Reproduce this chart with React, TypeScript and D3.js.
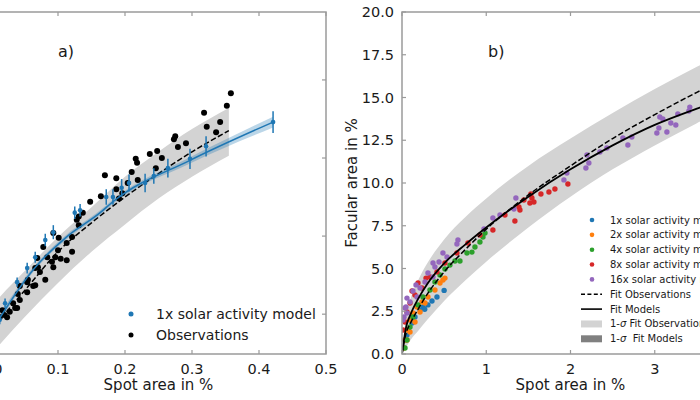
import React from 'react';
import * as d3 from 'd3';

const FONT = "'DejaVu Sans', sans-serif";

// ---------------- Panel a) ----------------
const xTicksA = [0, 0.1, 0.2, 0.3, 0.4, 0.5];
const yTicksA = [1, 2, 3, 4];

// Observations (spot area %, facular value)
const observationsA: [number, number][] = [
  [0.358, 3.83], [0.352, 3.67], [0.318, 3.58], [0.342, 3.46], [0.322, 3.40], [0.336, 3.33],
  [0.275, 3.28], [0.273, 3.24], [0.291, 3.19], [0.279, 3.14], [0.216, 2.99], [0.218, 2.94],
  [0.237, 3.05], [0.248, 3.09], [0.255, 3.00], [0.210, 2.82], [0.246, 2.87], [0.170, 2.78],
  [0.187, 2.74], [0.219, 2.72], [0.187, 2.60], [0.196, 2.55], [0.204, 2.68], [0.164, 2.51],
  [0.191, 2.48], [0.148, 2.44], [0.137, 2.30], [0.128, 2.21], [0.131, 2.25], [0.131, 2.14],
  [0.093, 2.04], [0.121, 1.99], [0.113, 1.91], [0.100, 1.82], [0.096, 1.73], [0.121, 1.80],
  [0.113, 1.69], [0.104, 1.71], [0.084, 1.73], [0.070, 1.60], [0.091, 1.67], [0.093, 1.60],
  [0.073, 1.54], [0.081, 1.44], [0.055, 1.44], [0.043, 1.36], [0.063, 1.36], [0.054, 1.28],
  [0.040, 1.26], [0.043, 1.18], [0.033, 1.14], [0.039, 1.08], [0.028, 1.03], [0.024, 0.96],
  [0.013, 0.96], [0.101, 1.98], [0.078, 1.86], [0.069, 1.72], [0.066, 1.59], [0.054, 1.41],
  [0.066, 1.37], [0.036, 1.08], [0.020, 0.99], [0.017, 1.05],
];

// 1x solar activity model (spot, value, error)
const modelPointsA: [number, number, number][] = [
  [0.421, 3.46, 0.14], [0.321, 3.15, 0.13], [0.297, 2.99, 0.13], [0.264, 2.87, 0.12],
  [0.243, 2.77, 0.10], [0.230, 2.68, 0.12], [0.206, 2.68, 0.11], [0.195, 2.62, 0.11],
  [0.182, 2.50, 0.10], [0.172, 2.50, 0.10], [0.133, 2.33, 0.08], [0.125, 2.30, 0.08],
  [0.093, 2.05, 0.09], [0.081, 1.95, 0.08], [0.066, 1.73, 0.07], [0.054, 1.59, 0.07],
  [0.039, 1.41, 0.06], [0.021, 1.14, 0.06], [0.013, 0.93, 0.06],
];

// Fit to observations with 1-sigma band
const fitSpotA = [0, 0.013, 0.05, 0.1, 0.15, 0.2, 0.25, 0.3, 0.355];
const fitObsA = [0.80, 0.93, 1.30, 1.80, 2.17, 2.50, 2.80, 3.08, 3.35];
const fitObsHiA = [1.09, 1.22, 1.55, 1.99, 2.37, 2.76, 3.08, 3.37, 3.64];
const fitObsLoA = [0.48, 0.61, 0.96, 1.40, 1.80, 2.15, 2.48, 2.76, 3.03];

// Fit to model with band
const modFitSpotA = [0, 0.013, 0.063, 0.113, 0.163, 0.182, 0.297, 0.421];
const modFitA = [0.77, 0.95, 1.57, 1.99, 2.30, 2.44, 2.97, 3.46];
const modFitHalfA = [0.06, 0.05, 0.03, 0.03, 0.03, 0.03, 0.04, 0.07];

const legendA = ['1x solar activity model', 'Observations'];

// ---------------- Panel b) ----------------
const xTicksB = [0, 1, 2, 3, 4];
const yTicksB = [0, 2.5, 5, 7.5, 10, 12.5, 15, 17.5, 20];

const fitSpotB = [0, 0.05, 0.1, 0.2, 0.3, 0.5, 0.75, 1.0, 1.5, 2.0, 2.5, 3.0, 3.5, 4.0];
const fitObsB = [0, 1.25, 1.8, 2.7, 3.5, 4.8, 6.1, 7.3, 9.3, 11.0, 12.6, 14.0, 15.3, 16.5];
const fitObsHiB = [0, 2.3, 3.2, 4.4, 5.3, 6.7, 8.0, 9.1, 11.0, 12.6, 14.1, 15.5, 16.8, 18.0];
const fitObsLoB = [0, 0.4, 0.8, 1.4, 2.0, 3.1, 4.3, 5.4, 7.4, 9.2, 10.8, 12.2, 13.5, 14.7];
const fitModB = [0, 1.6, 2.3, 3.3, 4.1, 5.3, 6.4, 7.4, 9.2, 10.8, 12.2, 13.4, 14.35, 15.2];

const act1x: [number, number][] = [
  [0.50, 3.72], [0.415, 3.33], [0.356, 3.10], [0.308, 2.87], [0.249, 2.75], [0.214, 2.57],
  [0.154, 2.16], [0.119, 1.81], [0.071, 1.40], [0.036, 0.82], [0.059, 1.11], [0.27, 2.62],
];
const act2x: [number, number][] = [
  [0.510, 4.44], [0.486, 4.33], [0.451, 4.15], [0.391, 3.74], [0.308, 3.33], [0.273, 2.98],
  [0.237, 3.04], [0.214, 2.46], [0.178, 2.75], [0.130, 2.40], [0.154, 1.87], [0.095, 1.99],
  [0.095, 1.29], [0.059, 1.40], [0.059, 0.82], [0.036, 0.82], [0.024, 0.35],
];
const act4x: [number, number][] = [
  [0.985, 7.08], [0.961, 6.84], [0.925, 6.55], [0.866, 6.26], [0.830, 5.96], [0.771, 5.91],
  [0.688, 5.44], [0.629, 5.44], [0.569, 5.20], [0.510, 4.97], [0.451, 4.62], [0.391, 4.21],
  [0.332, 3.74], [0.249, 3.33], [0.190, 2.87], [0.130, 2.16], [0.095, 1.58], [0.059, 0.82],
  [0.036, 0.35],
];
const act8x: [number, number][] = [
  [1.969, 9.94], [1.815, 9.65], [1.744, 9.47], [1.649, 9.36], [1.530, 9.36], [1.542, 9.12],
  [1.566, 8.89], [1.518, 8.83], [1.447, 9.01], [1.388, 8.60], [1.400, 8.42], [1.340, 7.78],
  [1.222, 8.13], [1.079, 7.25], [0.925, 6.96], [0.783, 6.49], [0.652, 5.91], [0.510, 5.32],
  [0.415, 4.80], [0.332, 4.50], [0.237, 3.86], [0.154, 3.45], [0.095, 2.98], [0.059, 2.46],
  [0.036, 1.87], [0.119, 3.68], [0.190, 4.15], [0.285, 4.44], [0.012, 1.40],
];
const act16x: [number, number][] = [
  [3.416, 14.44], [3.405, 14.21], [3.274, 14.04], [3.250, 13.39], [3.191, 13.51], [3.144, 12.98],
  [3.096, 13.74], [3.060, 13.86], [3.025, 12.92], [3.049, 13.22], [2.728, 12.69], [2.681, 12.22],
  [2.622, 12.63], [2.432, 12.05], [2.349, 11.81], [2.195, 11.64], [2.218, 11.17], [2.183, 10.88],
  [1.957, 10.58], [1.922, 10.18], [1.352, 9.12], [1.329, 8.48], [1.163, 8.13], [1.079, 7.95],
  [0.973, 7.31], [0.664, 6.67], [0.652, 6.43], [0.486, 5.91], [0.534, 5.67], [0.439, 5.38],
  [0.368, 5.32], [0.391, 5.09], [0.308, 4.74], [0.368, 4.50], [0.273, 4.21], [0.214, 3.86],
  [0.166, 4.04], [0.130, 3.68], [0.178, 3.33], [0.095, 3.04], [0.059, 3.27], [0.036, 2.69],
  [0.059, 2.40], [0.024, 2.16], [0.012, 1.99], [0.047, 2.75],
];

const seriesB = [
  { label: '1x solar activity model', color: '#1f77b4', pts: act1x },
  { label: '2x solar activity model', color: '#ff7f0e', pts: act2x },
  { label: '4x solar activity model', color: '#2ca02c', pts: act4x },
  { label: '8x solar activity model', color: '#d62728', pts: act8x },
  { label: '16x solar activity model', color: '#9467bd', pts: act16x },
];

const SPINE = '#9a9a9a';
const TXT = '#1a1a1a';

export default function App() {
  const xA = d3.scaleLinear().domain([0, 0.5]).range([-9, 326]);
  const yA = d3.scaleLinear().domain([0.49, 4.87]).range([354, 12]);
  const xB = d3.scaleLinear().domain([0, 4]).range([402, 739]);
  const yB = d3.scaleLinear().domain([0, 20]).range([354, 12]);

  const idx = (n: number) => d3.range(n);

  const bandA = d3.area<number>()
    .x(i => xA(fitSpotA[i])).y0(i => yA(fitObsLoA[i])).y1(i => yA(fitObsHiA[i]))
    .curve(d3.curveMonotoneX)(idx(fitSpotA.length)) || '';
  const fitLineA = d3.line<number>()
    .x(i => xA(fitSpotA[i])).y(i => yA(fitObsA[i]))
    .curve(d3.curveMonotoneX)(idx(fitSpotA.length)) || '';
  const modBandA = d3.area<number>()
    .x(i => xA(modFitSpotA[i])).y0(i => yA(modFitA[i] - modFitHalfA[i])).y1(i => yA(modFitA[i] + modFitHalfA[i]))
    .curve(d3.curveMonotoneX)(idx(modFitSpotA.length)) || '';
  const modLineA = d3.line<number>()
    .x(i => xA(modFitSpotA[i])).y(i => yA(modFitA[i]))
    .curve(d3.curveMonotoneX)(idx(modFitSpotA.length)) || '';

  const bandB = d3.area<number>()
    .x(i => xB(fitSpotB[i])).y0(i => yB(fitObsLoB[i])).y1(i => yB(fitObsHiB[i]))
    .curve(d3.curveMonotoneX)(idx(fitSpotB.length)) || '';
  const fitObsLineB = d3.line<number>()
    .x(i => xB(fitSpotB[i])).y(i => yB(fitObsB[i]))
    .curve(d3.curveMonotoneX)(idx(fitSpotB.length)) || '';
  const fitModLineB = d3.line<number>()
    .x(i => xB(fitSpotB[i])).y(i => yB(fitModB[i]))
    .curve(d3.curveMonotoneX)(idx(fitSpotB.length)) || '';

  const tickFont = 14.5;
  const labelFont = 15;

  const [ax0, ax1] = xA.range();
  const [ay0, ay1] = yA.range(); // 354, 12
  const [bx0, bx1] = xB.range();
  const [by0, by1] = yB.range();

  const legBY = d3.range(9).map(i => 220 + i * 14.85);

  return (
    <svg width={700} height={400} style={{ position: 'absolute', left: 0, top: 0, background: '#fff' }}
      fontFamily={FONT}>
      <defs>
        <clipPath id="clipA"><rect x={ax0} y={ay1} width={ax1 - ax0} height={ay0 - ay1} /></clipPath>
        <clipPath id="clipB"><rect x={bx0} y={by1} width={bx1 - bx0} height={by0 - by1} /></clipPath>
      </defs>

      {/* ---------------- Panel a ---------------- */}
      <g clipPath="url(#clipA)">
        <path d={bandA} fill="#d3d3d3" />
        <path d={fitLineA} fill="none" stroke="#000" strokeWidth={1.5} strokeDasharray="5.5,2.4" />
        <path d={modBandA} fill="#1f77b4" fillOpacity={0.3} />
        {observationsA.map((p, i) => (
          <circle key={'o' + i} cx={xA(p[0])} cy={yA(p[1])} r={3} fill="#000" />
        ))}
        {modelPointsA.map((p, i) => (
          <g key={'m' + i}>
            <line x1={xA(p[0])} x2={xA(p[0])} y1={yA(p[1] - p[2])} y2={yA(p[1] + p[2])}
              stroke="#1f77b4" strokeWidth={1.5} />
            <circle cx={xA(p[0])} cy={yA(p[1])} r={2.3} fill="#1f77b4" />
          </g>
        ))}
        <path d={modLineA} fill="none" stroke="#1f77b4" strokeWidth={1.5} />
      </g>
      {/* spines a */}
      <rect x={ax0} y={ay1} width={ax1 - ax0} height={ay0 - ay1} fill="none" stroke={SPINE} strokeWidth={1.5} />
      {xTicksA.map(t => (
        <g key={'xa' + t}>
          <line x1={xA(t)} x2={xA(t)} y1={ay0} y2={ay0 - 4} stroke={SPINE} strokeWidth={1.2} />
          <line x1={xA(t)} x2={xA(t)} y1={ay1} y2={ay1 + 4} stroke={SPINE} strokeWidth={1.2} />
          <text x={xA(t)} y={374} textAnchor="middle" fontSize={tickFont} fill={TXT}>{t.toFixed(1)}</text>
        </g>
      ))}
      {yTicksA.map(t => (
        <g key={'ya' + t}>
          <line x1={ax1} x2={ax1 - 4} y1={yA(t)} y2={yA(t)} stroke={SPINE} strokeWidth={1.2} />
          <line x1={ax0} x2={ax0 + 4} y1={yA(t)} y2={yA(t)} stroke={SPINE} strokeWidth={1.2} />
        </g>
      ))}
      <text x={(ax0 + ax1) / 2} y={390} textAnchor="middle" fontSize={labelFont} fill={TXT}>Spot area in %</text>
      <text x={58} y={57} fontSize={16} fill={TXT}>a)</text>
      {/* legend a */}
      <circle cx={131} cy={314} r={2.5} fill="#1f77b4" />
      <text x={156} y={319} fontSize={14} fill={TXT}>{legendA[0]}</text>
      <circle cx={131} cy={335} r={2.5} fill="#000" />
      <text x={156} y={340} fontSize={14} fill={TXT}>{legendA[1]}</text>

      {/* ---------------- Panel b ---------------- */}
      <g clipPath="url(#clipB)">
        <path d={bandB} fill="#d3d3d3" />
        {seriesB.map(s => s.pts.map((p, i) => (
          <circle key={s.label + i} cx={xB(p[0])} cy={yB(p[1])} r={2.7} fill={s.color} />
        )))}
        <path d={fitObsLineB} fill="none" stroke="#000" strokeWidth={1.5} strokeDasharray="5.5,2.4" />
        <path d={fitModLineB} fill="none" stroke="#000" strokeWidth={1.8} />
      </g>
      <rect x={bx0} y={by1} width={bx1 - bx0} height={by0 - by1} fill="none" stroke={SPINE} strokeWidth={1.5} />
      {xTicksB.map(t => (
        <g key={'xb' + t}>
          <line x1={xB(t)} x2={xB(t)} y1={by0} y2={by0 - 4} stroke={SPINE} strokeWidth={1.2} />
          <line x1={xB(t)} x2={xB(t)} y1={by1} y2={by1 + 4} stroke={SPINE} strokeWidth={1.2} />
          <text x={xB(t)} y={374} textAnchor="middle" fontSize={tickFont} fill={TXT}>{String(t)}</text>
        </g>
      ))}
      {yTicksB.map(t => (
        <g key={'yb' + t}>
          <line x1={bx0} x2={bx0 + 4} y1={yB(t)} y2={yB(t)} stroke={SPINE} strokeWidth={1.2} />
          <text x={394} y={yB(t) + 5} textAnchor="end" fontSize={tickFont} fill={TXT}>{t.toFixed(1)}</text>
        </g>
      ))}
      <text x={(bx0 + bx1) / 2} y={390} textAnchor="middle" fontSize={labelFont} fill={TXT}>Spot area in %</text>
      <text transform={`translate(357,${(by0 + by1) / 2}) rotate(-90)`} textAnchor="middle" fontSize={labelFont} fill={TXT}>
        Facular area in %
      </text>
      <text x={488} y={57} fontSize={16} fill={TXT}>b)</text>

      {/* legend b */}
      {seriesB.map((s, i) => (
        <g key={'lg' + i}>
          <circle cx={592} cy={legBY[i]} r={2.3} fill={s.color} />
          <text x={610} y={legBY[i] + 3.5} fontSize={10} fill={TXT}>{s.label}</text>
        </g>
      ))}
      <line x1={581} x2={602} y1={legBY[5]} y2={legBY[5]} stroke="#000" strokeWidth={1.5} strokeDasharray="4,2.4" />
      <text x={610} y={legBY[5] + 3.5} fontSize={10} fill={TXT}>Fit Observations</text>
      <line x1={581} x2={602} y1={legBY[6]} y2={legBY[6]} stroke="#000" strokeWidth={1.6} />
      <text x={610} y={legBY[6] + 3.5} fontSize={10} fill={TXT}>Fit Models</text>
      <rect x={581} y={legBY[7] - 3.5} width={21} height={7} fill="#d3d3d3" />
      <text x={610} y={legBY[7] + 3.5} fontSize={10} fill={TXT} style={{ whiteSpace: 'pre' }}>
        1-<tspan fontStyle="italic">σ</tspan> Fit Observations
      </text>
      <rect x={581} y={legBY[8] - 3.5} width={21} height={7} fill="#808080" />
      <text x={610} y={legBY[8] + 3.5} fontSize={10} fill={TXT} style={{ whiteSpace: 'pre' }}>
        1-<tspan fontStyle="italic">σ</tspan>{'  Fit Models'}
      </text>
    </svg>
  );
}
